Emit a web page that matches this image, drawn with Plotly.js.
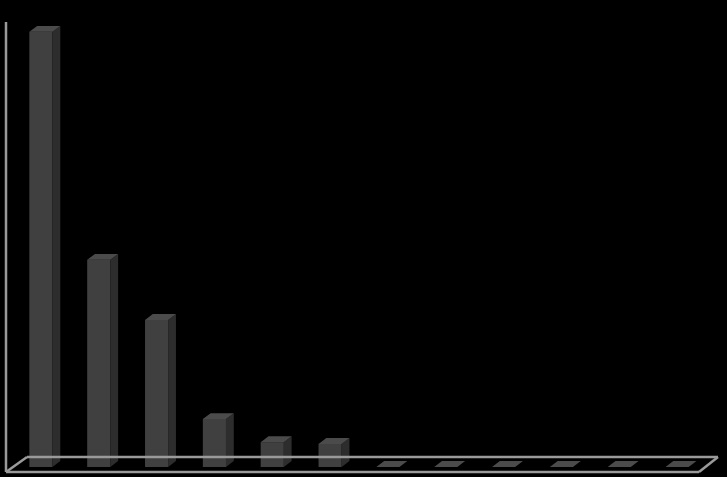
<!DOCTYPE html>
<html>
<head>
<meta charset="utf-8">
<script src="https://cdn.plot.ly/plotly-3.0.1.min.js"></script>
<style>
  html, body { margin: 0; padding: 0; background: #000; }
  #chart { width: 727px; height: 477px; }
</style>
</head>
<body>
<div id="chart"></div>
<script>
// Bar heights (relative to the first bar = 100)
const categories = [0, 1, 2, 3, 4, 5, 6, 7, 8, 9, 10, 11];
const values = [100, 47.6, 33.8, 11.0, 5.7, 5.3, 0, 0, 0, 0, 0, 0];

// pseudo 3D look
const barWidth = 0.4;
const yMax = 105;
const depthX = 0.135;  // x units
const depthY = 1.35;   // y units
const frontColor = '#404040';
const sideColor = '#2d2d2d';
const topColor = '#4b4b4b';
const lineColor = '#9a9a9a';

// plot area in pixels, used for the floor and wall lines
const margin = { l: 12, r: 21, t: 10, b: 10 };
const W = 727, H = 477;
const px = x => (x - margin.l) / (W - margin.l - margin.r);
const py = y => (H - margin.b - y) / (H - margin.t - margin.b);

const shapes = [];

categories.forEach((c, i) => {
    const v = values[i];
    const l = c - barWidth / 2;
    const r = c + barWidth / 2;
    // right side face
    if (v > 0) {
        shapes.push({
            type: 'path', xref: 'x', yref: 'y', layer: 'above',
            path: `M${r},0 L${r + depthX},${depthY} L${r + depthX},${v + depthY} L${r},${v} Z`,
            fillcolor: sideColor, line: { width: 0 }
        });
    }
    // top face
    shapes.push({
        type: 'path', xref: 'x', yref: 'y', layer: 'above',
        path: `M${l},${v} L${r},${v} L${r + depthX},${v + depthY} L${l + depthX},${v + depthY} Z`,
        fillcolor: topColor, line: { width: 0 }
    });
});

// wall and floor lines
const lineStyle = { color: lineColor, width: 2.5 };
shapes.push(
    { type: 'line', xref: 'paper', yref: 'paper', x0: px(6), y0: py(22), x1: px(6), y1: py(472), line: lineStyle },
    { type: 'line', xref: 'paper', yref: 'paper', x0: px(6), y0: py(472), x1: px(699), y1: py(472), line: lineStyle },
    { type: 'line', xref: 'paper', yref: 'paper', x0: px(27), y0: py(457), x1: px(718), y1: py(457), line: lineStyle },
    { type: 'line', xref: 'paper', yref: 'paper', x0: px(6), y0: py(472), x1: px(27), y1: py(457), line: lineStyle },
    { type: 'line', xref: 'paper', yref: 'paper', x0: px(699), y0: py(472), x1: px(718), y1: py(457), line: lineStyle }
);

const data = [{
    type: 'bar',
    x: categories,
    y: values,
    width: barWidth,
    marker: { color: frontColor, line: { width: 0 } },
    hoverinfo: 'none'
}];

const layout = {
    width: W,
    height: H,
    paper_bgcolor: '#000',
    plot_bgcolor: '#000',
    margin: margin,
    showlegend: false,
    xaxis: {
        range: [-0.5, 11.5],
        showgrid: false, zeroline: false, showline: false, showticklabels: false, ticks: ''
    },
    yaxis: {
        range: [0, yMax],
        showgrid: false, zeroline: false, showline: false, showticklabels: false, ticks: ''
    },
    shapes: shapes
};

Plotly.newPlot('chart', data, layout, { staticPlot: true });
</script>
</body>
</html>
